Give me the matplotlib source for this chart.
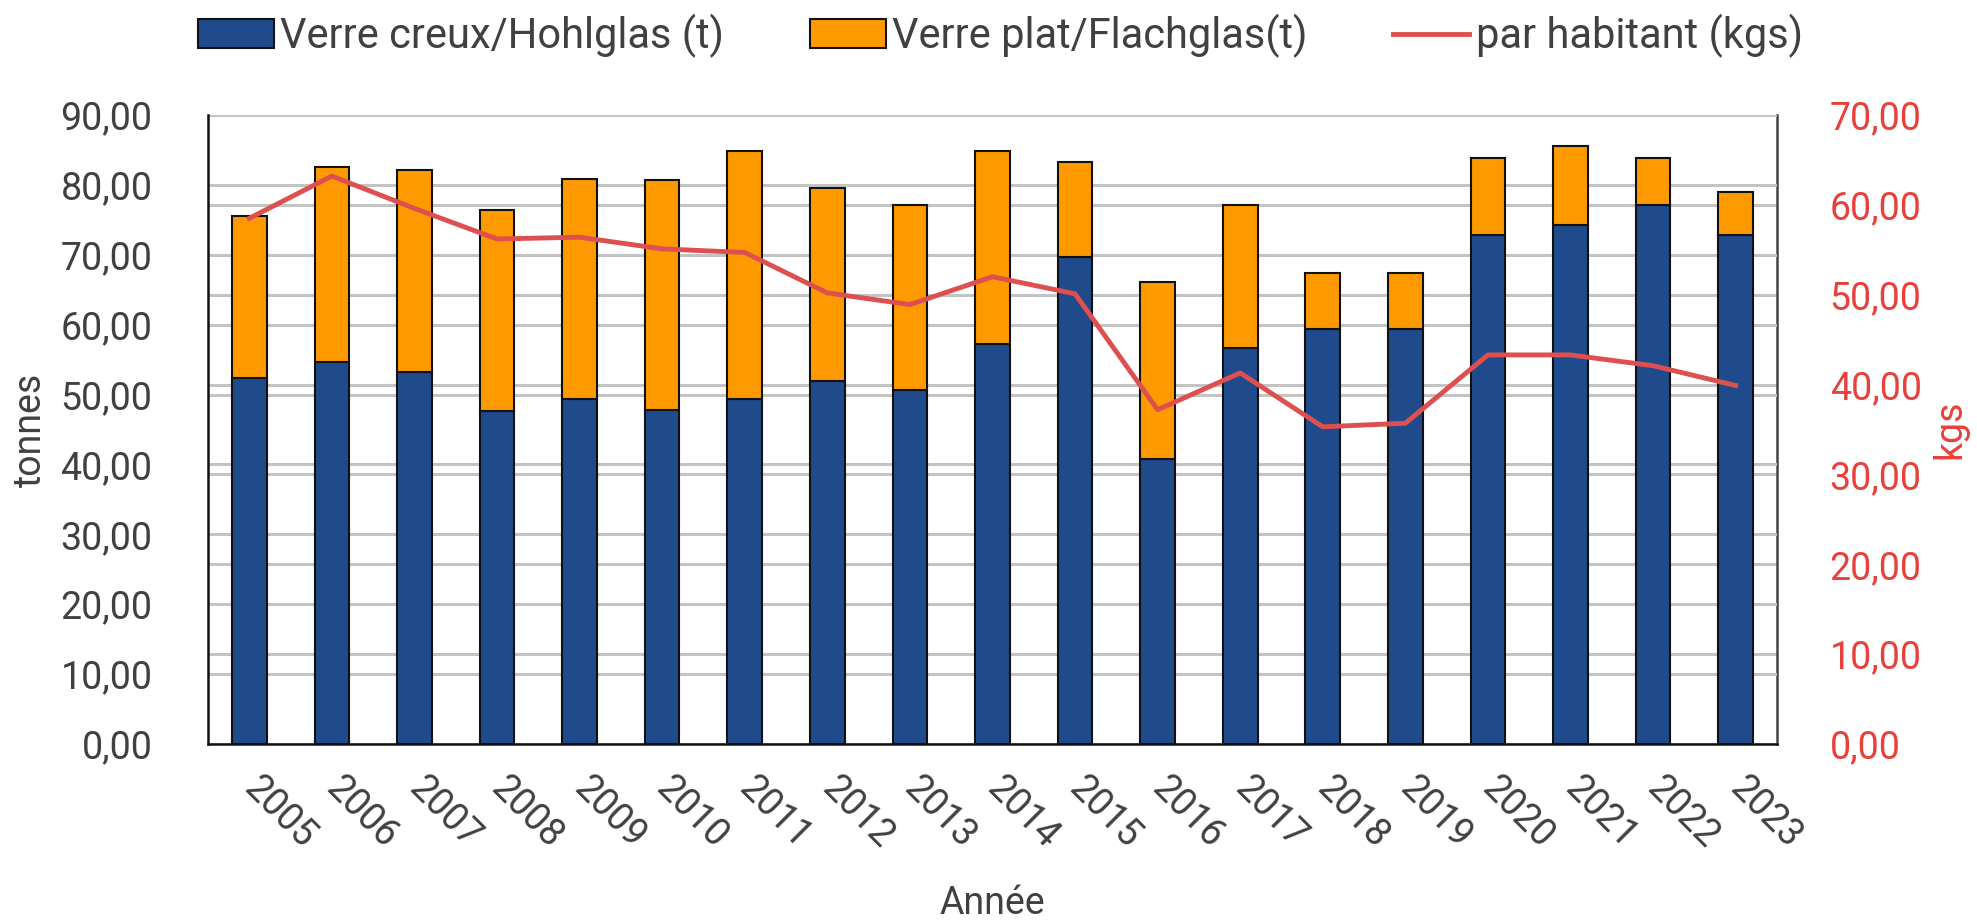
import matplotlib
matplotlib.use("Agg")
import matplotlib.pyplot as plt
import numpy as np

plt.rcParams['font.family'] = ['Roboto', 'DejaVu Sans']

years = ['2005', '2006', '2007', '2008', '2009', '2010', '2011', '2012', '2013', '2014',
         '2015', '2016', '2017', '2018', '2019', '2020', '2021', '2022', '2023']
hollow_glass = [52.4, 54.7, 53.2, 47.7, 49.3, 47.8, 49.3, 51.9, 50.7, 57.2,
                69.7, 40.8, 56.7, 59.4, 59.4, 72.8, 74.2, 77.1, 72.8]
flat_glass = [23.1, 27.9, 28.9, 28.7, 31.5, 32.9, 35.5, 27.6, 26.4, 27.6,
              13.6, 25.3, 20.4, 8.0, 8.0, 11.1, 11.3, 6.8, 6.2]
per_capita = [58.5, 63.2, 59.6, 56.2, 56.4, 55.1, 54.7, 50.2, 48.9, 52.0,
              50.1, 37.2, 41.3, 35.3, 35.7, 43.3, 43.3, 42.1, 39.9]

left_ticks = [0, 10, 20, 30, 40, 50, 60, 70, 80, 90]
right_ticks = [0, 10, 20, 30, 40, 50, 60, 70]

BLUE = '#1f4a8c'
ORANGE = '#ff9900'
RED = '#de5050'
RED_TXT = '#e8403a'
TXT = '#404040'
GRID = '#c4c4c4'
FS = 27
LFS = 30

fig = plt.figure(figsize=(19.77, 9.22), dpi=100)
ax = fig.add_axes([0.1052, 0.193, 0.7936, 0.6823])
ax2 = ax.twinx()

x = np.arange(len(years))
w = 0.42
b1 = ax.bar(x, hollow_glass, width=w, color=BLUE, edgecolor='#111111', linewidth=1.5,
            zorder=3, label='Verre creux/Hohlglas (t)')
b2 = ax.bar(x, flat_glass, width=w, bottom=hollow_glass, color=ORANGE, edgecolor='#111111',
            linewidth=1.5, zorder=3, label='Verre plat/Flachglas(t)')

ax.set_ylim(0, 90)
ax2.set_ylim(0, 70)
ax.set_xlim(-0.5, len(years) - 0.5)

# gridlines of both axes, drawn beneath the bars
for t in left_ticks:
    ax.axhline(t, color=GRID, linewidth=2.2, zorder=0)
for t in right_ticks:
    ax2.axhline(t, color=GRID, linewidth=2.2, zorder=0)
ax.set_zorder(ax2.get_zorder() + 1)
ax.patch.set_visible(False)

# overlay axis (same scale as ax2) so the line sits above the bars
ax3 = ax.twinx()
ax3.set_ylim(0, 70)
ax3.set_zorder(ax.get_zorder() + 1)
ax3.patch.set_visible(False)
ax3.axis('off')
ln, = ax3.plot(x, per_capita, color=RED, linewidth=3.5, solid_joinstyle='round',
               label='par habitant (kgs)')

ax.set_yticks(left_ticks)
ax.set_yticklabels([f"{t:.2f}".replace('.', ',') for t in left_ticks])
ax2.set_yticks(right_ticks)
ax2.set_yticklabels([f"{t:.2f}".replace('.', ',') for t in right_ticks])

ax.set_xticks(x)
ax.set_xticklabels(years, rotation=-45, ha='left', va='center', rotation_mode='anchor')

ax.tick_params(axis='y', length=0, pad=40, labelsize=FS, labelcolor=TXT)
ax.tick_params(axis='x', length=0, pad=28, labelsize=FS, labelcolor=TXT)
ax2.tick_params(axis='y', length=0, pad=38, labelsize=FS, labelcolor=RED_TXT)

for a in (ax, ax2):
    a.spines['top'].set_visible(False)
ax.spines['left'].set_color('#111111')
ax.spines['left'].set_linewidth(1.8)
ax.spines['bottom'].set_color('#111111')
ax.spines['bottom'].set_linewidth(1.8)
ax.spines['right'].set_visible(False)
ax2.spines['left'].set_visible(False)
ax2.spines['bottom'].set_visible(False)
ax2.spines['right'].set_color('#444444')
ax2.spines['right'].set_linewidth(1.8)

ax.set_ylabel('tonnes', fontsize=FS, color=TXT, labelpad=8)
ax2.set_ylabel('kgs', fontsize=FS, color=RED_TXT, labelpad=7)
ax.set_xlabel('Année', fontsize=FS, color=TXT, labelpad=21)

fig.legend(handles=[b1, b2, ln], loc='center', bbox_to_anchor=(0.506, 0.961), ncol=3,
           frameon=False, fontsize=LFS, handlelength=1.82, handletextpad=0.15,
           columnspacing=2.06, labelcolor=TXT)

fig.savefig('out.png', dpi=100)
